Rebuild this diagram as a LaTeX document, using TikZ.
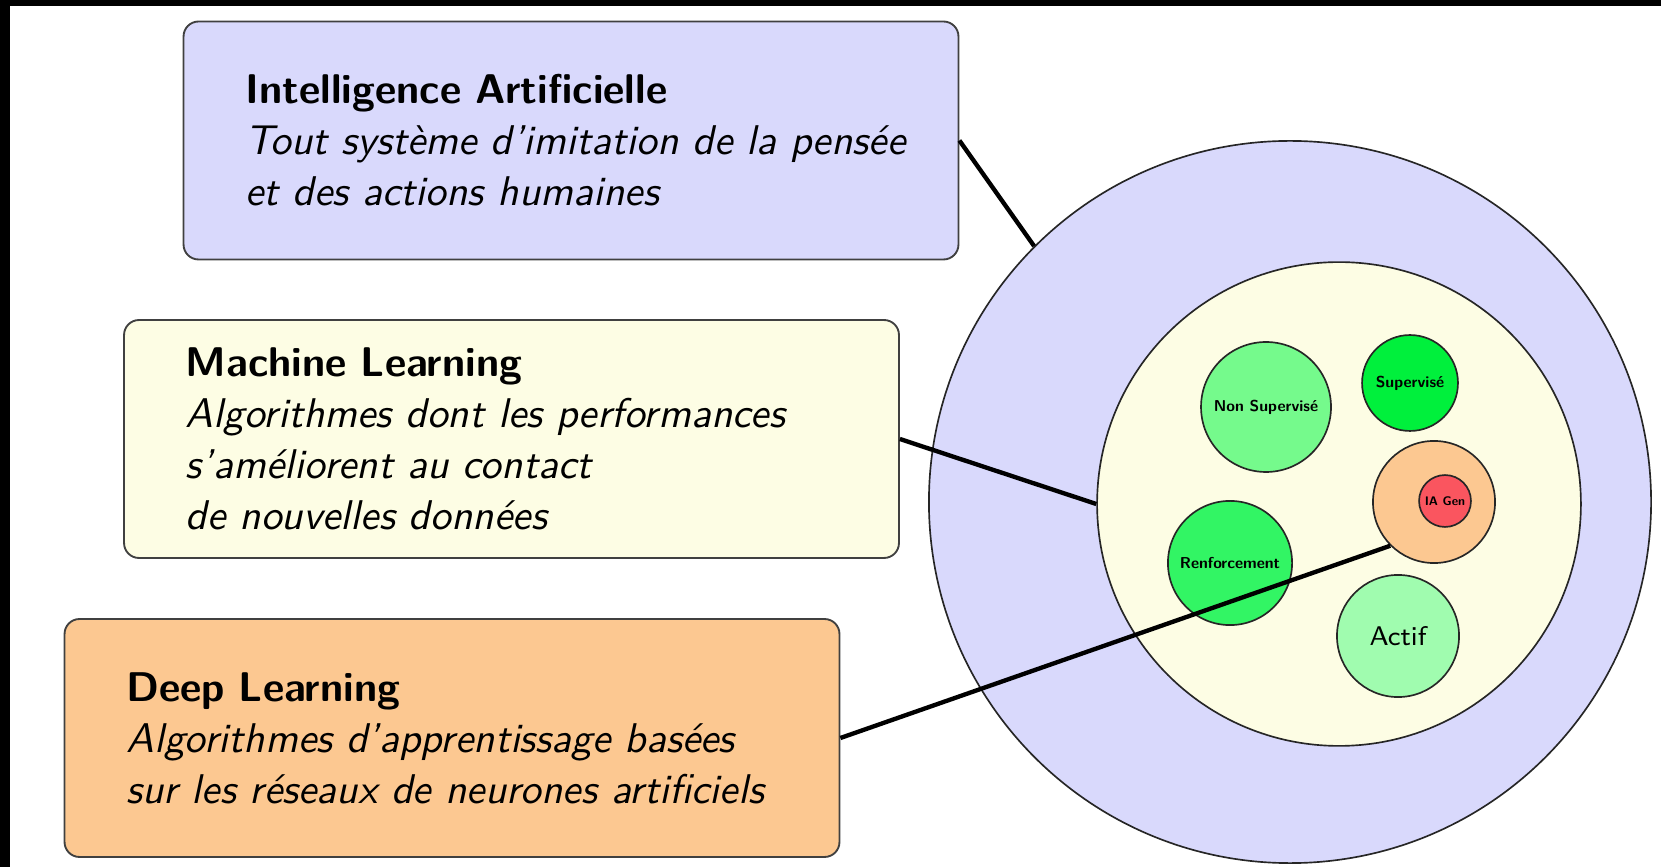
\documentclass[tikz,border=0pt]{standalone}
\definecolor{iablue}{RGB}{217,217,252}
\definecolor{mlyellow}{RGB}{253,253,228}
\definecolor{dlorange}{RGB}{252,200,145}
\definecolor{nsgreen}{RGB}{117,250,140}
\definecolor{supgreen}{RGB}{0,240,60}
\definecolor{rfgreen}{RGB}{50,245,100}
\definecolor{acgreen}{RGB}{160,252,175}
\definecolor{genred}{RGB}{250,85,95}
\newcommand{\boxpad}{\leftskip=14.9pt\relax}
\begin{document}
\begin{tikzpicture}[x=0.2408pt,y=-0.2408pt,
  infobox/.style={draw=black!75, line width=0.45pt, rounded corners=3.6pt,
    minimum width=186.6pt, minimum height=57.3pt, inner xsep=0pt, inner ysep=0pt,
    text width=186.6pt, align=left, font=\fontsize{10}{12.3}\selectfont\sffamily},
  ring/.style={circle, draw=black!85, line width=0.4pt, inner sep=0pt},
  lab/.style={font=\fontsize{3.8}{4.5}\selectfont\sffamily\bfseries},
  link/.style={draw=black, line width=1.05pt}]
\useasboundingbox (0,0) rectangle (1661,867);
\fill[black] (0,0) rectangle (1661,6);
\fill[black] (0,0) rectangle (10,867);

% circles
\node[ring, fill=iablue, minimum size=173.9pt] (outer) at (1290,502) {};
\node[ring, fill=mlyellow, minimum size=116.5pt] (inner) at (1339,504) {};
\node[ring, lab, fill=nsgreen, minimum size=31.3pt] (ns) at (1266,407) {Non Supervisé};
\node[ring, lab, fill=supgreen, minimum size=23.1pt] (sup) at (1410,383) {Supervisé};
\node[ring, lab, fill=rfgreen, minimum size=29.9pt] (rf) at (1230,563) {Renforcement};
\node[ring, fill=acgreen, minimum size=29.4pt, font=\fontsize{6.5}{7.5}\selectfont\sffamily] (ac) at (1398,636) {Actif};
\node[ring, fill=dlorange, minimum size=29.4pt] (gen) at (1434,502) {};
\node[ring, fill=genred, minimum size=12.5pt, font=\fontsize{3}{3.6}\selectfont\sffamily\bfseries] (iagen) at (1445,501) {IA Gen};

% boxes
\node[infobox, fill=iablue] (ia) at (571,140.5) {\boxpad\textbf{Intelligence Artificielle}\\
  \textit{Tout système d’imitation de la pensée}\\
  \textit{et des actions humaines}\par};
\node[infobox, fill=mlyellow] (ml) at (511.5,439) {\boxpad\textbf{Machine Learning}\\
  \textit{Algorithmes dont les performances}\\
  \textit{s’améliorent au contact}\\
  \textit{de nouvelles données}\par};
\node[infobox, fill=dlorange] (dl) at (452,738) {\boxpad\textbf{Deep Learning}\\
  \textit{Algorithmes d’apprentissage basées}\\
  \textit{sur les réseaux de neurones artificiels}\par};

% connectors
\draw[link] (ia.east) -- (outer.north west);
\draw[link] (ml.east) -- (inner.west);
\draw[link] (dl.east) -- (gen.south west);
\end{tikzpicture}
\end{document}
